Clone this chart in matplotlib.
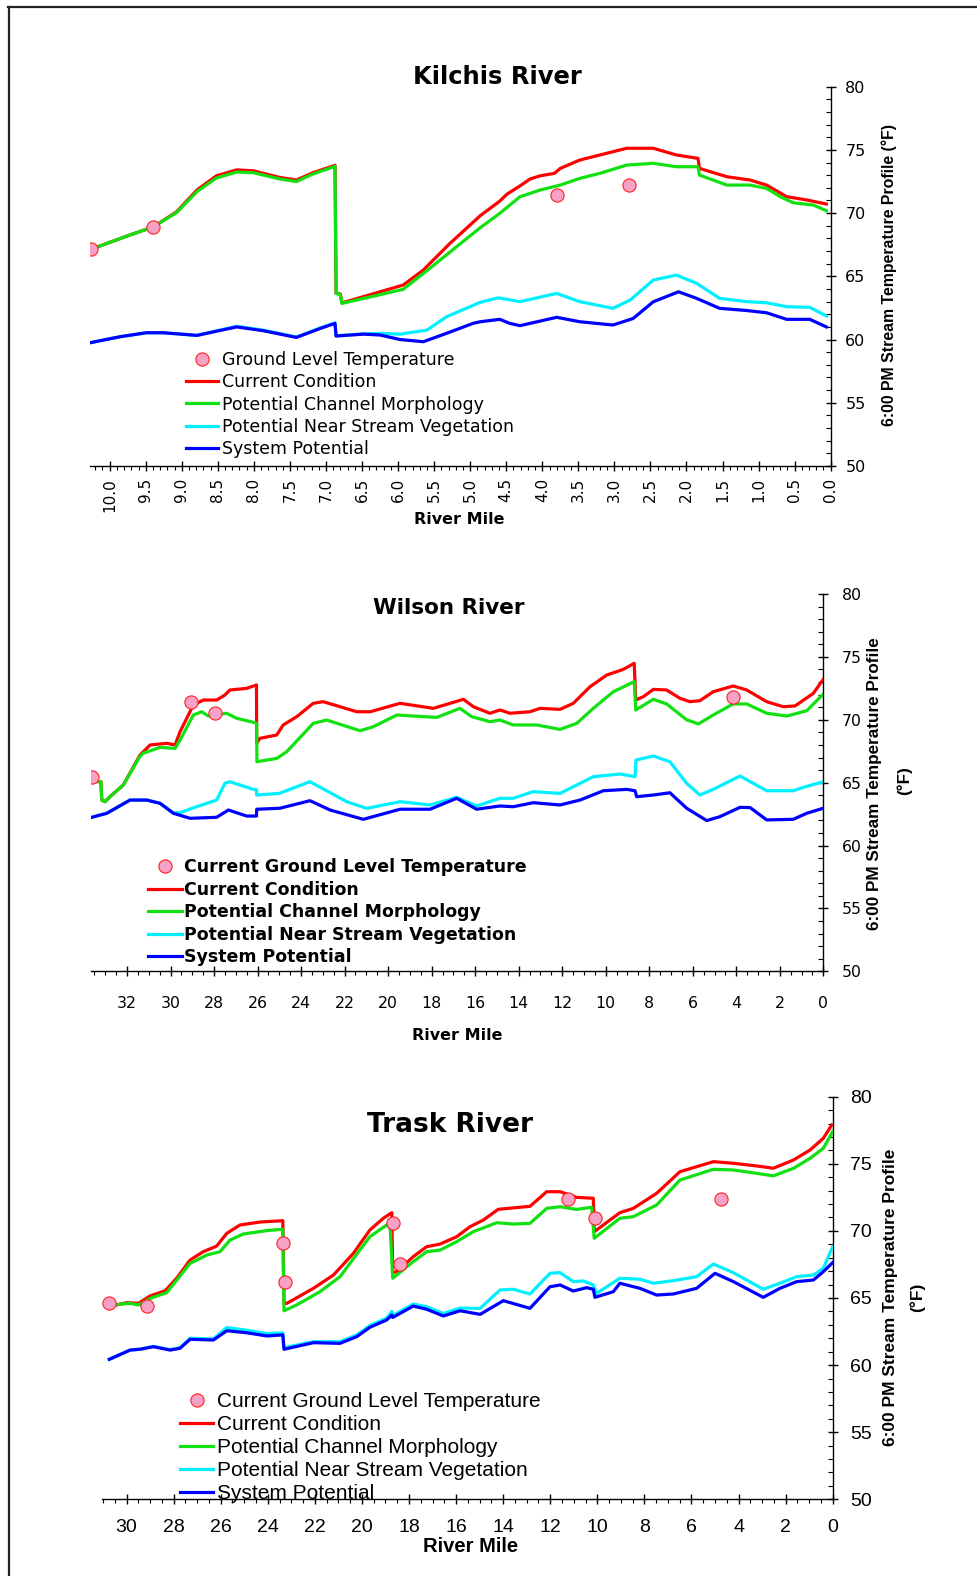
import matplotlib
matplotlib.use("Agg")
import matplotlib.pyplot as plt
from matplotlib.lines import Line2D
from matplotlib.ticker import MultipleLocator, FormatStrFormatter

# ---------------- Kilchis River ----------------
kil_red_mile = [10.26, 9.72, 9.40, 9.07, 8.79, 8.52, 8.24, 8.01, 7.64, 7.41, 7.18, 6.875, 6.86, 6.80, 6.78,
                5.93, 5.65, 5.28, 4.86, 4.59, 4.49, 4.31, 4.17, 4.03, 3.83, 3.75, 3.48, 3.2, 2.83, 2.46,
                2.14, 1.84, 1.82, 1.44, 1.12, 0.89, 0.61, 0.33, 0.06]
kil_red_temp = [67.14, 68.27, 68.9, 70.11, 71.83, 72.95, 73.42, 73.35, 72.82, 72.62, 73.2, 73.78, 63.65, 63.6, 62.9,
                64.31, 65.5, 67.61, 69.8, 70.95, 71.5, 72.15, 72.7, 72.95, 73.15, 73.54, 74.2, 74.6, 75.13, 75.13,
                74.6, 74.33, 73.54, 72.88, 72.62, 72.22, 71.3, 71.04, 70.72]
kil_grn_mile = [10.26, 9.72, 9.40, 9.07, 8.79, 8.52, 8.24, 8.01, 7.64, 7.41, 7.18, 6.875, 6.86, 6.80, 6.78,
                5.93, 5.56, 5.19, 4.86, 4.59, 4.49, 4.31, 4.17, 4.03, 3.75, 3.48, 3.2, 2.83, 2.46, 2.14,
                1.84, 1.82, 1.44, 1.12, 0.89, 0.70, 0.52, 0.24, 0.06]
kil_grn_temp = [67.14, 68.27, 68.9, 70.05, 71.7, 72.78, 73.25, 73.2, 72.7, 72.5, 73.1, 73.7, 63.65, 63.55, 62.86,
                63.97, 65.63, 67.34, 68.85, 69.98, 70.45, 71.3, 71.56, 71.83, 72.22, 72.75, 73.15, 73.8, 73.94, 73.67,
                73.67, 73.01, 72.22, 72.22, 71.96, 71.3, 70.82, 70.64, 70.19]
kil_cyn_mile = [10.27, 9.86, 9.49, 9.26, 8.79, 8.24, 7.87, 7.41, 7.08, 6.875, 6.86, 6.48, 6.25, 5.97, 5.60,
                5.33, 4.86, 4.61, 4.31, 3.80, 3.48, 3.02, 2.78, 2.46, 2.14, 1.86, 1.54, 1.17, 0.89, 0.61,
                0.29, 0.06]
kil_cyn_temp = [59.75, 60.22, 60.54, 60.54, 60.33, 61.05, 60.75, 60.2, 60.92, 61.32, 60.3, 60.45, 60.49, 60.43, 60.75,
                61.8, 62.95, 63.3, 63.0, 63.65, 63.0, 62.47, 63.13, 64.71, 65.1, 64.45, 63.26, 63.0, 62.91, 62.6,
                62.55, 61.86]
kil_blu_mile = [10.27, 9.86, 9.49, 9.26, 8.79, 8.24, 7.87, 7.41, 7.08, 6.875, 6.86, 6.48, 6.25, 5.97, 5.65,
                5.33, 4.96, 4.86, 4.59, 4.45, 4.31, 3.80, 3.48, 3.02, 2.74, 2.46, 2.11, 1.86, 1.54, 1.17,
                0.89, 0.61, 0.29, 0.06]
kil_blu_temp = [59.75, 60.22, 60.54, 60.54, 60.33, 61.0, 60.7, 60.17, 60.88, 61.28, 60.28, 60.43, 60.36, 60.0, 59.83,
                60.49, 61.28, 61.41, 61.6, 61.28, 61.1, 61.76, 61.41, 61.15, 61.67, 62.99, 63.78, 63.26, 62.47, 62.3,
                62.12, 61.6, 61.6, 61.0]
kil_gnd_mile = [10.26, 9.40, 3.79, 2.80]
kil_gnd_temp = [67.14, 68.92, 71.46, 72.22]

# ---------------- Wilson River ----------------
wil_red_mile = [33.55, 33.20, 33.16, 33.01, 32.78, 32.17, 31.4, 30.94, 30.17, 29.79, 29.56, 28.95, 28.49, 27.88,
                27.5, 27.27, 26.5, 26.05, 26.04, 25.89, 25.12, 24.82, 24.2, 23.44, 22.98, 21.44, 20.83, 19.45,
                17.92, 16.54, 16.08, 15.32, 14.86, 14.4, 13.48, 13.02, 12.1, 11.49, 10.72, 9.95, 9.19, 8.69,
                8.62, 8.27, 7.81, 7.2, 6.59, 6.13, 5.67, 5.06, 4.14, 3.52, 2.6, 1.84, 1.3, 0.46, 0.0]
wil_red_temp = [65.1, 65.08, 63.62, 63.49, 63.89, 64.82, 67.2, 68.0, 68.13, 68.0, 69.06, 71.18, 71.57, 71.57,
                71.97, 72.37, 72.5, 72.77, 68.13, 68.53, 68.79, 69.59, 70.25, 71.31, 71.44, 70.64, 70.64, 71.31,
                70.91, 71.63, 71.04, 70.52, 70.78, 70.52, 70.64, 70.91, 70.83, 71.31, 72.63, 73.56, 74.01, 74.49,
                71.57, 71.84, 72.42, 72.37, 71.71, 71.44, 71.52, 72.23, 72.69, 72.37, 71.44, 71.04, 71.1, 72.1, 73.22]
wil_grn_mile = [33.55, 33.20, 33.16, 33.01, 32.78, 32.17, 31.4, 31.26, 30.48, 29.79, 29.56, 28.95, 28.57, 28.26,
                27.42, 26.96, 26.12, 26.04, 26.03, 25.12, 24.66, 23.44, 22.82, 21.29, 20.68, 19.6, 17.77, 16.7,
                16.16, 15.32, 14.86, 14.25, 13.17, 12.1, 11.33, 10.57, 9.65, 8.69, 8.62, 7.81, 7.2, 6.28, 5.74,
                5.06, 4.14, 3.52, 2.6, 1.68, 0.76, 0.0]
wil_grn_temp = [65.1, 65.08, 63.62, 63.49, 63.89, 64.82, 67.1, 67.34, 67.81, 67.73, 68.39, 70.38, 70.64, 70.3,
                70.52, 70.12, 69.77, 69.7, 66.67, 66.93, 67.46, 69.72, 69.98, 69.13, 69.45, 70.38, 70.19, 70.91,
                70.25, 69.85, 69.98, 69.59, 69.59, 69.24, 69.72, 70.91, 72.23, 73.03, 70.78, 71.63, 71.26, 70.0, 69.67,
                70.38, 71.26, 71.26, 70.52, 70.3, 70.72, 72.05]
wil_cyn_mile = [33.62, 32.93, 31.86, 31.09, 30.48, 29.87, 29.56, 28.8, 27.88, 27.5, 27.27, 26.19, 26.05, 26.04,
                25.0, 23.59, 21.9, 20.98, 19.45, 18.07, 16.85, 15.93, 14.86, 14.25, 13.33, 12.1, 10.57, 9.34,
                8.65, 8.61, 7.81, 7.05, 6.28, 5.67, 5.06, 3.83, 2.6, 1.38, 0.92, 0.0]
wil_cyn_temp = [62.25, 62.57, 63.62, 63.62, 63.36, 62.6, 62.62, 63.09, 63.62, 64.95, 65.08, 64.47, 64.45, 64.02,
                64.15, 65.08, 63.49, 62.96, 63.49, 63.23, 63.84, 63.15, 63.76, 63.76, 64.29, 64.15, 65.48, 65.69,
                65.48, 66.8, 67.12, 66.67, 64.95, 64.02, 64.47, 65.53, 64.36, 64.36, 64.63, 65.08]
wil_blu_mile = [33.62, 32.93, 31.86, 31.09, 30.48, 29.87, 29.1, 27.88, 27.34, 26.5, 26.05, 26.04, 24.97, 23.59,
                22.67, 21.14, 19.45, 18.07, 16.85, 15.93, 14.86, 14.25, 13.33, 12.1, 11.18, 10.11, 9.03, 8.65,
                8.58, 7.81, 7.05, 6.28, 5.36, 4.75, 3.83, 3.36, 2.6, 1.38, 0.76, 0.0]
wil_blu_temp = [62.25, 62.57, 63.62, 63.62, 63.36, 62.57, 62.17, 62.25, 62.83, 62.35, 62.35, 62.89, 62.97, 63.57,
                62.83, 62.09, 62.89, 62.89, 63.76, 62.89, 63.15, 63.09, 63.41, 63.23, 63.62, 64.36, 64.47, 64.36,
                63.89, 64.02, 64.2, 62.97, 61.99, 62.3, 63.04, 63.02, 62.04, 62.09, 62.57, 62.97]
wil_gnd_mile = [33.62, 29.06, 27.95, 4.14]
wil_gnd_temp = [65.48, 71.44, 70.52, 71.79]

# ---------------- Trask River ----------------
tra_red_mile = [30.73, 30.42, 29.99, 29.5, 29.0, 28.36, 27.87, 27.3, 26.74, 26.17, 25.74, 25.18, 24.33, 23.36,
                23.31, 23.19, 22.06, 21.21, 20.36, 19.66, 19.09, 18.73, 18.69, 18.52, 17.82, 17.25, 16.68, 15.97,
                15.41, 14.84, 14.21, 12.86, 12.15, 11.58, 10.88, 10.17, 10.13, 9.04, 8.47, 7.48, 6.49, 5.07,
                4.22, 3.23, 2.52, 1.67, 0.96, 0.4, 0.04]
tra_red_temp = [64.6, 64.48, 64.65, 64.6, 65.15, 65.54, 66.47, 67.83, 68.45, 68.87, 69.82, 70.44, 70.66, 70.76,
                64.6, 64.6, 65.72, 66.71, 68.33, 70.07, 70.94, 71.36, 66.89, 66.96, 68.08, 68.82, 69.02, 69.57,
                70.31, 70.81, 71.61, 71.83, 72.92, 72.92, 72.5, 72.43, 69.94, 71.36, 71.68, 72.8, 74.41, 75.16,
                75.04, 74.84, 74.67, 75.28, 76.03, 76.9, 77.89]
tra_grn_mile = [30.73, 29.85, 29.5, 29.0, 28.29, 27.3, 26.59, 26.03, 25.6, 25.04, 24.04, 23.36, 23.31, 22.77,
                21.78, 20.93, 19.66, 18.81, 18.69, 17.82, 17.25, 16.68, 15.97, 15.27, 14.27, 13.57, 12.86, 12.15,
                11.58, 10.88, 10.24, 10.13, 9.04, 8.47, 7.48, 6.49, 5.07, 4.22, 3.23, 2.52, 1.67, 0.96, 0.4, 0.0]
tra_grn_temp = [64.48, 64.6, 64.48, 64.97, 65.4, 67.58, 68.2, 68.45, 69.32, 69.77, 70.02, 70.12, 64.05, 64.48,
                65.47, 66.59, 69.57, 70.61, 66.47, 67.71, 68.45, 68.57, 69.2, 69.94, 70.61, 70.51, 70.56, 71.68,
                71.8, 71.6, 71.76, 69.45, 70.94, 71.06, 71.93, 73.79, 74.59, 74.54, 74.29, 74.1, 74.66, 75.41, 76.15,
                77.4]
tra_cyn_mile = [30.73, 29.85, 29.43, 28.86, 28.15, 27.73, 27.3, 26.31, 25.74, 24.89, 24.04, 23.36, 23.31, 22.06,
                20.93, 20.22, 19.66, 18.95, 18.73, 18.69, 17.82, 17.25, 16.54, 15.83, 14.98, 14.13, 13.57, 12.86,
                12.01, 11.58, 11.02, 10.59, 10.17, 10.03, 9.04, 8.19, 7.62, 6.77, 5.78, 5.07, 4.22, 2.95, 2.24,
                1.53, 0.82, 0.4, 0.0]
tra_cyn_temp = [60.43, 61.12, 61.18, 61.4, 61.15, 61.3, 62.0, 61.95, 62.8, 62.6, 62.35, 62.4, 61.3, 61.75,
                61.75, 62.25, 62.95, 63.5, 64.0, 63.7, 64.55, 64.35, 63.85, 64.25, 64.23, 65.6, 65.65, 65.3,
                66.84, 66.89, 66.22, 66.27, 65.97, 65.35, 66.47, 66.4, 66.1, 66.29, 66.59, 67.53, 66.89, 65.65, 66.1,
                66.59, 66.71, 67.21, 68.82]
tra_blu_mile = [30.73, 29.85, 29.43, 28.86, 28.15, 27.73, 27.3, 26.31, 25.74, 24.89, 24.04, 23.36, 23.31, 22.06,
                20.93, 20.22, 19.66, 18.95, 18.73, 18.69, 17.82, 17.25, 16.54, 15.83, 14.98, 13.99, 12.86, 12.01,
                11.58, 11.02, 10.45, 10.17, 10.1, 9.32, 9.04, 8.19, 7.48, 6.77, 5.78, 5.0, 4.22, 2.95, 2.24,
                1.53, 0.82, 0.4, 0.0]
tra_blu_temp = [60.43, 61.12, 61.18, 61.37, 61.12, 61.25, 61.92, 61.87, 62.56, 62.41, 62.17, 62.25, 61.18, 61.67,
                61.62, 62.12, 62.82, 63.36, 63.73, 63.55, 64.4, 64.16, 63.66, 64.05, 63.78, 64.8, 64.23, 65.84,
                65.97, 65.52, 65.77, 65.65, 65.05, 65.47, 66.1, 65.72, 65.22, 65.3, 65.72, 66.84, 66.22, 65.05, 65.72,
                66.22, 66.34, 66.96, 67.64]
tra_gnd_mile = [30.73, 29.14, 23.34, 23.27, 18.69, 18.38, 11.23, 10.1, 4.76]
tra_gnd_temp = [64.6, 64.4, 69.08, 66.21, 70.57, 67.53, 72.38, 70.94, 72.38]

legend_labels_kil = ["Ground Level Temperature", "Current Condition", "Potential Channel Morphology",
                     "Potential Near Stream Vegetation", "System Potential"]
legend_labels_other = ["Current Ground Level Temperature", "Current Condition", "Potential Channel Morphology",
                       "Potential Near Stream Vegetation", "System Potential"]

C_RED, C_GRN, C_CYN, C_BLU = "#ff0000", "#11e011", "#00f0ff", "#0000ff"
W, H = 977, 1576
fig = plt.figure(figsize=(W / 100, H / 100), dpi=100)


def add_axes_px(left, right, top, bottom):
    return fig.add_axes([left / W, 1 - bottom / H, (right - left) / W, (bottom - top) / H])


def fx(x):
    return x / W


def fy(y):
    return 1 - y / H


def draw_panel(ax, red, grn, cyn, blu, gnd):
    lw = 2.3
    hr, = ax.plot(red[0], red[1], color=C_RED, lw=lw, zorder=3)
    hg, = ax.plot(grn[0], grn[1], color=C_GRN, lw=lw, zorder=4)
    hc, = ax.plot(cyn[0], cyn[1], color=C_CYN, lw=lw, zorder=3)
    hb, = ax.plot(blu[0], blu[1], color=C_BLU, lw=lw, zorder=4)
    hm, = ax.plot(gnd[0], gnd[1], linestyle="none", marker="o", markersize=9.5,
                  markerfacecolor="#f7a1c6", markeredgecolor="#ff2020", markeredgewidth=0.8, zorder=6)
    return [hm, hr, hg, hc, hb]


def style_axes(ax, xlim, xmaj, xmin, fmt, xrot, tickfont, tsize, xpad, ypad):
    ax.set_xlim(*xlim)
    ax.set_ylim(50, 80)
    for s in ["top", "left"]:
        ax.spines[s].set_visible(False)
    for s in ["bottom", "right"]:
        ax.spines[s].set_linewidth(1.0)
    ax.patch.set_alpha(0)
    ax.yaxis.tick_right()
    ax.xaxis.set_major_locator(MultipleLocator(xmaj))
    ax.xaxis.set_minor_locator(MultipleLocator(xmin))
    ax.xaxis.set_major_formatter(FormatStrFormatter(fmt))
    ax.yaxis.set_major_locator(MultipleLocator(5))
    ax.yaxis.set_minor_locator(MultipleLocator(1))
    ax.tick_params(axis="x", which="major", direction="inout", length=7, width=1, pad=xpad,
                   labelsize=tsize, labelrotation=xrot)
    ax.tick_params(axis="x", which="minor", direction="out", length=3, width=0.8)
    ax.tick_params(axis="y", which="major", direction="inout", length=7, width=1, pad=ypad,
                   labelsize=tsize, right=True, left=False)
    ax.tick_params(axis="y", which="minor", direction="in", length=3.5, width=0.8, right=True, left=False)
    for lab in ax.get_xticklabels() + ax.get_yticklabels():
        lab.set_family(tickfont)


# ---------- Kilchis ----------
ax1 = add_axes_px(89.5, 830.7, 86.7, 466.0)
h1 = draw_panel(ax1, (kil_red_mile, kil_red_temp), (kil_grn_mile, kil_grn_temp),
                (kil_cyn_mile, kil_cyn_temp), (kil_blu_mile, kil_blu_temp), (kil_gnd_mile, kil_gnd_temp))
style_axes(ax1, (10.28, 0), 0.5, 0.1, "%.1f", 90, "DejaVu Sans", 11.5, 5, 7)
ax1.tick_params(axis="x", which="major", labelsize=11)
ax1.legend(h1, legend_labels_kil, loc="upper left", bbox_to_anchor=(fx(186), fy(351)),
           bbox_transform=fig.transFigure, frameon=False, borderpad=0, borderaxespad=0,
           handlelength=1.84, handletextpad=0.23, labelspacing=0.245,
           prop={"family": "DejaVu Sans", "size": 12.5})
fig.text(fx(497), fy(76.5), "Kilchis River", ha="center", va="center", family="DejaVu Sans",
         fontweight="bold", fontsize=17.5)
fig.text(fx(459), fy(520), "River Mile", ha="center", va="center", family="DejaVu Sans",
         fontweight="bold", fontsize=11.5)
fig.text(fx(889), fy(275.5), "6:00 PM Stream Temperature Profile (°F)", rotation=90, ha="center",
         va="center", family="Liberation Sans", fontweight="bold", fontsize=11.4)

# ---------- Wilson ----------
ax2 = add_axes_px(91.1, 823.3, 594.0, 971.4)
h2 = draw_panel(ax2, (wil_red_mile, wil_red_temp), (wil_grn_mile, wil_grn_temp),
                (wil_cyn_mile, wil_cyn_temp), (wil_blu_mile, wil_blu_temp), (wil_gnd_mile, wil_gnd_temp))
style_axes(ax2, (33.65, 0), 2, 0.5, "%d", 0, "DejaVu Sans", 11.3, 14, 10)
ax2.legend(h2, legend_labels_other, loc="upper left", bbox_to_anchor=(fx(148), fy(858)),
           bbox_transform=fig.transFigure, frameon=False, borderpad=0, borderaxespad=0,
           handlelength=1.96, handletextpad=0.12, labelspacing=0.265,
           prop={"family": "DejaVu Sans", "size": 12.5, "weight": "bold"})
fig.text(fx(449), fy(608), "Wilson River", ha="center", va="center", family="DejaVu Sans",
         fontweight="bold", fontsize=15.5)
fig.text(fx(457), fy(1036), "River Mile", ha="center", va="center", family="DejaVu Sans",
         fontweight="bold", fontsize=11.5)
fig.text(fx(875), fy(784), "6:00 PM Stream Temperature Profile", rotation=90, ha="center",
         va="center", family="Liberation Sans", fontweight="bold", fontsize=12.3)
fig.text(fx(904), fy(781), "(°F)", rotation=90, ha="center", va="center",
         family="Liberation Sans", fontweight="bold", fontsize=12.3)

# ---------- Trask ----------
ax3 = add_axes_px(101.8, 832.7, 1096.7, 1499.3)
h3 = draw_panel(ax3, (tra_red_mile, tra_red_temp), (tra_grn_mile, tra_grn_temp),
                (tra_cyn_mile, tra_cyn_temp), (tra_blu_mile, tra_blu_temp), (tra_gnd_mile, tra_gnd_temp))
style_axes(ax3, (31.05, 0), 2, 0.5, "%d", 0, "Liberation Sans", 14, 11, 9)
ax3.legend(h3, legend_labels_other, loc="upper left", bbox_to_anchor=(fx(180), fy(1392)),
           bbox_transform=fig.transFigure, frameon=False, borderpad=0, borderaxespad=0,
           handlelength=1.59, handletextpad=0.19, labelspacing=0.195,
           prop={"family": "Liberation Sans", "size": 15})
fig.text(fx(450), fy(1125), "Trask River", ha="center", va="center", family="DejaVu Sans",
         fontweight="bold", fontsize=19)
fig.text(fx(471), fy(1547), "River Mile", ha="center", va="center", family="Liberation Sans",
         fontweight="bold", fontsize=14.5)
fig.text(fx(890), fy(1297), "6:00 PM Stream Temperature Profile", rotation=90, ha="center",
         va="center", family="Liberation Sans", fontweight="bold", fontsize=12.5)
fig.text(fx(917), fy(1297), "(°F)", rotation=90, ha="center", va="center",
         family="Liberation Sans", fontweight="bold", fontsize=12.5)

# page frame (left and top edges)
fig.add_artist(Line2D([fx(9), fx(9)], [fy(7), 0], transform=fig.transFigure, color="#222222", lw=1.6))
fig.add_artist(Line2D([fx(8.2), 1], [fy(7), fy(7)], transform=fig.transFigure, color="#222222", lw=1.6))

fig.savefig("out.png", dpi=100)
